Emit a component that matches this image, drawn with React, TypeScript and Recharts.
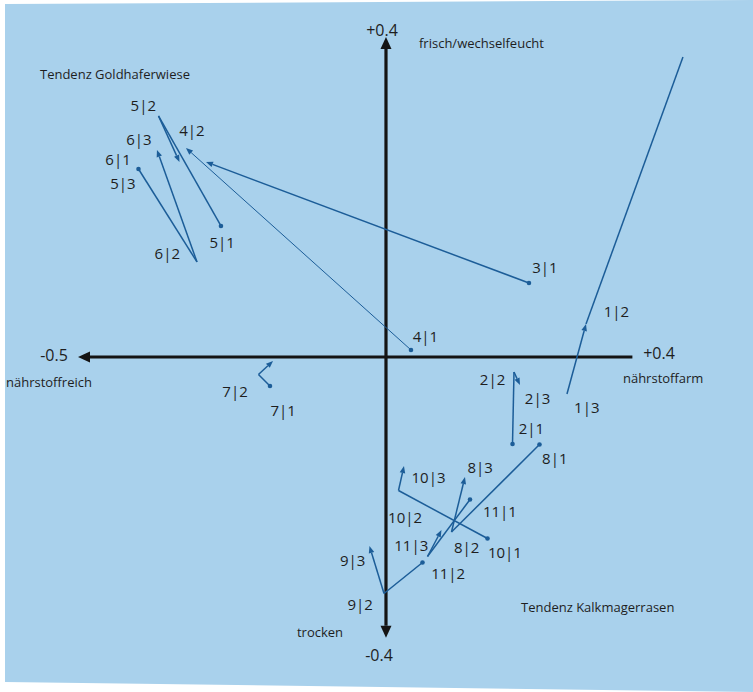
import React from 'react';
import { ScatterChart, Scatter, XAxis, YAxis, ReferenceLine } from 'recharts';

// Ordination plane: x = nutrient gradient (nährstoffreich ← → nährstoffarm),
// y = moisture gradient (trocken ↓ ↑ frisch/wechselfeucht).
const X_DOMAIN: [number, number] = [-0.6266, 0.5958];
const Y_DOMAIN: [number, number] = [-0.41875, 0.44625];

// Axis extents
const X_AXIS_MIN = -0.5;
const X_AXIS_MAX = 0.4;
const Y_AXIS_MIN = -0.351;
const Y_AXIS_MAX = 0.4;

// Plot trajectories over survey rounds (x, y)
const site1 = [[0.2938, -0.0463], [0.3247, 0.0413], [0.4821, 0.375]];
const site2 = [[0.2054, -0.1088], [0.2078, -0.0188], [0.2175, -0.035]];
const site3 = [[0.2321, 0.0925], [-0.2922, 0.2438]];
const site4 = [[0.0406, 0.0088], [-0.3247, 0.2613]];
const site5 = [[-0.2679, 0.1638], [-0.3693, 0.3013], [-0.3352, 0.2438]];
const site6 = [[-0.4018, 0.235], [-0.3068, 0.1188], [-0.3718, 0.2588]];
const site7 = [[-0.1883, -0.0363], [-0.207, -0.0219], [-0.1834, -0.005]];
const site8 = [[0.2492, -0.1094], [0.1063, -0.2188], [0.1282, -0.15]];
const site9 = [[0.0593, -0.2569], [-0.0032, -0.2956], [-0.0268, -0.2363]];
const site10 = [[0.1648, -0.2269], [0.0203, -0.1669], [0.0292, -0.1363]];
const site11 = [[0.1364, -0.1781], [0.0674, -0.2494], [0.0901, -0.2163]];

const sites = [site1, site2, site3, site4, site5, site6, site7, site8, site9, site10, site11];
// index of the point that carries the arrowhead for each site
const arrowTargets = [1, 2, 1, 1, 2, 2, 2, 2, 2, 2, 2];
const startDots = [false, true, true, true, true, true, true, true, true, true, true];
const trackWidths = [1.5, 1.5, 1.5, 1, 1.5, 1.5, 1.5, 1.5, 1.5, 1.5, 1.5];

// Point labels "site|round"
const pointLabels = [
  { text: '5|2', x: -0.394, y: 0.315 },
  { text: '4|2', x: -0.315, y: 0.284 },
  { text: '6|3', x: -0.401, y: 0.272 },
  { text: '6|1', x: -0.435, y: 0.247 },
  { text: '5|3', x: -0.427, y: 0.217 },
  { text: '5|1', x: -0.266, y: 0.144 },
  { text: '6|2', x: -0.355, y: 0.130 },
  { text: '3|1', x: 0.258, y: 0.112 },
  { text: '1|2', x: 0.374, y: 0.057 },
  { text: '4|1', x: 0.064, y: 0.026 },
  { text: '7|2', x: -0.245, y: -0.0425 },
  { text: '7|1', x: -0.167, y: -0.066 },
  { text: '2|2', x: 0.173, y: -0.0275 },
  { text: '2|3', x: 0.246, y: -0.0516 },
  { text: '1|3', x: 0.326, y: -0.0629 },
  { text: '2|1', x: 0.236, y: -0.0891 },
  { text: '8|1', x: 0.274, y: -0.1266 },
  { text: '10|3', x: 0.069, y: -0.1504 },
  { text: '8|3', x: 0.153, y: -0.1371 },
  { text: '11|1', x: 0.185, y: -0.1921 },
  { text: '10|2', x: 0.031, y: -0.1996 },
  { text: '11|3', x: 0.041, y: -0.235 },
  { text: '8|2', x: 0.131, y: -0.2379 },
  { text: '10|1', x: 0.193, y: -0.2441 },
  { text: '11|2', x: 0.101, y: -0.2704 },
  { text: '9|3', x: -0.054, y: -0.2538 },
  { text: '9|2', x: -0.042, y: -0.3091 },
];

// Axis tick values and gradient names
const tickLabels = [
  { text: '+0.4', x: -0.0065, y: 0.409 },
  { text: '-0.5', x: -0.539, y: 0.0025 },
  { text: '+0.4', x: 0.4432, y: 0.005 },
  { text: '-0.4', x: -0.0114, y: -0.3725 },
];
const gradientLabels = [
  { text: 'frisch/wechselfeucht', x: 0.0536, y: 0.3925 },
  { text: 'nährstoffreich', x: -0.6169, y: -0.0313 },
  { text: 'nährstoffarm', x: 0.3847, y: -0.0263 },
  { text: 'trocken', x: -0.1445, y: -0.3438 },
  { text: 'Tendenz Goldhaferwiese', x: -0.5617, y: 0.3538 },
  { text: 'Tendenz Kalkmagerrasen', x: 0.2192, y: -0.3125 },
];

const TRACK = '#1c5d98';
const AXIS = '#141414';
const INK = '#1e1e1e';
const FONT = '"Open Sans", "Noto Sans", sans-serif';

function headPoints(x1: number, y1: number, x2: number, y2: number, len: number, half: number) {
  const dx = x2 - x1;
  const dy = y2 - y1;
  const d = Math.hypot(dx, dy) || 1;
  const ux = dx / d;
  const uy = dy / d;
  const bx = x2 - ux * len;
  const by = y2 - uy * len;
  return {
    pts: `${x2},${y2} ${bx - uy * half},${by + ux * half} ${bx + uy * half},${by - ux * half}`,
    bx,
    by,
  };
}

function TrackSegment(props: any) {
  const { x1, y1, x2, y2, withHead, sw } = props;
  if (!withHead) {
    return <line x1={x1} y1={y1} x2={x2} y2={y2} stroke={TRACK} strokeWidth={sw} />;
  }
  const h = headPoints(x1, y1, x2, y2, 7, 2.8);
  return (
    <g>
      <line x1={x1} y1={y1} x2={h.bx} y2={h.by} stroke={TRACK} strokeWidth={sw} />
      <polygon points={h.pts} fill={TRACK} />
    </g>
  );
}

function AxisLine(props: any) {
  const { x1, y1, x2, y2, headStart, headEnd } = props;
  let sx = x1, sy = y1, ex = x2, ey = y2;
  const parts: any[] = [];
  if (headEnd) {
    const h = headPoints(x1, y1, x2, y2, 12, 5.5);
    ex = h.bx; ey = h.by;
    parts.push(<polygon key="e" points={h.pts} fill={AXIS} />);
  }
  if (headStart) {
    const h = headPoints(x2, y2, x1, y1, 12, 5.5);
    sx = h.bx; sy = h.by;
    parts.push(<polygon key="s" points={h.pts} fill={AXIS} />);
  }
  return (
    <g>
      <line x1={sx} y1={sy} x2={ex} y2={ey} stroke={AXIS} strokeWidth={3.2} />
      {parts}
    </g>
  );
}

const segments: { a: number[]; b: number[]; head: boolean; sw: number; key: string }[] = [];
sites.forEach((pts, si) => {
  for (let i = 1; i < pts.length; i++) {
    segments.push({
      a: pts[i - 1],
      b: pts[i],
      head: i === arrowTargets[si],
      sw: trackWidths[si],
      key: `s${si}-${i}`,
    });
  }
});
const dotData = sites
  .filter((_, si) => startDots[si])
  .map((pts) => ({ x: pts[0][0], y: pts[0][1] }));

const renderDot = (p: any) => <circle cx={p.cx} cy={p.cy} r={2.3} fill={TRACK} />;
const renderPointLabel = (p: any) => (
  <text x={p.cx} y={p.cy} textAnchor="middle" dominantBaseline="central" fontFamily={FONT} fontSize={15} fill={INK}>
    {p.payload.text}
  </text>
);
const renderTick = (p: any) => (
  <text x={p.cx} y={p.cy} textAnchor="middle" dominantBaseline="central" fontFamily={FONT} fontSize={16} fill={INK}>
    {p.payload.text}
  </text>
);
const renderGradient = (p: any) => (
  <text x={p.cx} y={p.cy} textAnchor="start" dominantBaseline="central" fontFamily={FONT} fontSize={13} fill={INK}>
    {p.payload.text}
  </text>
);

export default function App() {
  return (
    <div style={{ position: 'absolute', left: 0, top: 0, width: 753, height: 692, background: '#ffffff' }}>
      <div
        style={{
          position: 'absolute',
          inset: 0,
          background: '#a9d1ec',
          clipPath: 'polygon(5px 4px, 753px 0px, 753px 692px, 5px 682px)',
        }}
      />
      <div style={{ position: 'absolute', left: 0, top: 0 }}>
        <ScatterChart width={753} height={692} margin={{ top: 0, right: 0, bottom: 0, left: 0 }}>
          <XAxis type="number" dataKey="x" domain={X_DOMAIN} hide allowDataOverflow />
          <YAxis type="number" dataKey="y" domain={Y_DOMAIN} hide allowDataOverflow />
          <ReferenceLine
            segment={[{ x: X_AXIS_MAX, y: 0 }, { x: X_AXIS_MIN, y: 0 }]}
            ifOverflow="visible"
            shape={(p: any) => <AxisLine {...p} headEnd />}
          />
          <ReferenceLine
            segment={[{ x: 0, y: Y_AXIS_MIN }, { x: 0, y: Y_AXIS_MAX }]}
            ifOverflow="visible"
            shape={(p: any) => <AxisLine {...p} headStart headEnd />}
          />
          {segments.map((s) => (
            <ReferenceLine
              key={s.key}
              segment={[{ x: s.a[0], y: s.a[1] }, { x: s.b[0], y: s.b[1] }]}
              ifOverflow="visible"
              shape={(p: any) => <TrackSegment {...p} withHead={s.head} sw={s.sw} />}
            />
          ))}
          <Scatter data={dotData} shape={renderDot} isAnimationActive={false} />
          <Scatter data={pointLabels} shape={renderPointLabel} isAnimationActive={false} />
          <Scatter data={tickLabels} shape={renderTick} isAnimationActive={false} />
          <Scatter data={gradientLabels} shape={renderGradient} isAnimationActive={false} />
        </ScatterChart>
      </div>
    </div>
  );
}
